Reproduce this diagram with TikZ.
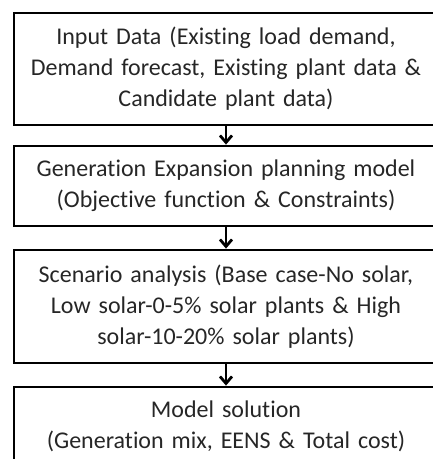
\documentclass[tikz,border=0pt]{standalone}
\usepackage{fontspec}
\setmainfont{Carlito}[RawFeature=-liga]
\usetikzlibrary{arrows.meta}
\begin{document}
\begin{tikzpicture}[x=1pt,y=1pt,
  stagebox/.style={draw=black, line width=2.8pt, minimum width=424pt, text width=420pt,
    align=center, inner sep=0pt, text=black!85,
    font=\fontsize{24}{31}\selectfont},
  flowarrow/.style={line width=2.6pt, -{Straight Barb[length=7pt,width=12pt,line width=2.8pt]}}]
\useasboundingbox (0,0) rectangle (433,-459);
\clip (0,0) rectangle (433,-459);
\node[stagebox, minimum height=112pt] (n1) at (226,-69)
  {Input Data (Existing load demand,\\Demand forecast, Existing plant data \&\\Candidate plant data)};
\node[stagebox, minimum height=80pt] (n2) at (226,-186)
  {Generation Expansion planning model\\(Objective function \& Constraints)};
\node[stagebox, minimum height=113pt] (n3) at (226,-306.5)
  {Scenario analysis (Base case-No solar,\\Low solar-0-5\% solar plants \& High\\solar-10-20\% solar plants)};
\node[stagebox, minimum height=78pt] (n4) at (226,-426)
  {Model solution\\(Generation mix, EENS \& Total cost)};
\draw[flowarrow] (n1.south) -- (n2.north);
\draw[flowarrow] (n2.south) -- (n3.north);
\draw[flowarrow] (n3.south) -- (n4.north);
\end{tikzpicture}
\end{document}
